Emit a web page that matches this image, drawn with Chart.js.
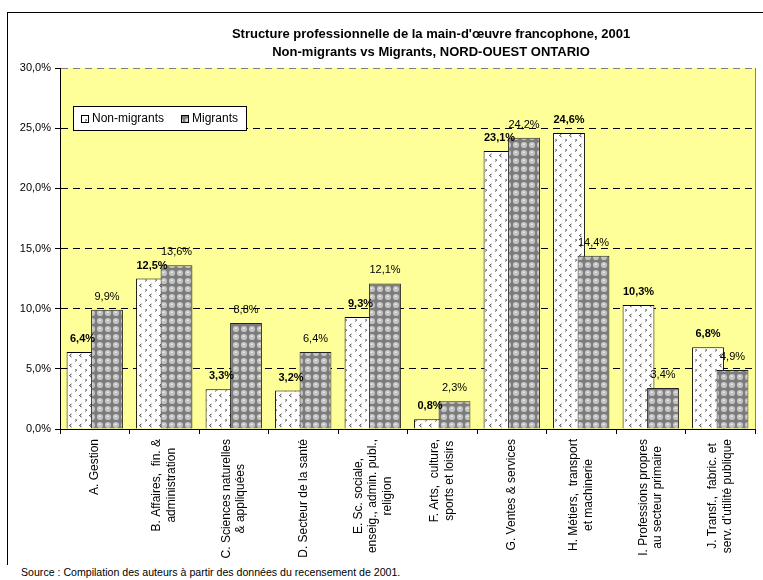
<!DOCTYPE html>
<html>
<head>
<meta charset="utf-8">
<script src="https://cdn.jsdelivr.net/npm/chart.js@4.4.1/dist/chart.umd.min.js"></script>
<style>
body{margin:0;background:#fff;overflow:hidden;width:763px;height:580px;position:relative;font-family:"Liberation Sans",Arial,sans-serif}
#frame{position:absolute;left:7px;top:12px;width:846px;height:552px;border-left:1px solid #000;border-top:1px solid #000}
#source{position:absolute;left:21px;top:566px;font-size:10.6px;color:#000;white-space:nowrap}
</style>
</head>
<body>
<div id="frame"><canvas id="myChart" width="846" height="552"></canvas></div>
<div id="source">Source : Compilation des auteurs à partir des données du recensement de 2001.</div>
<script>
// data
const categories = [
  ['A. Gestion'],
  ['B. Affaires,  fin. &', 'administration'],
  ['C. Sciences naturelles', '& appliquées'],
  ['D. Secteur de la santé'],
  ['E. Sc. sociale,', 'enseig., admin. publ.,', 'religion'],
  ['F. Arts,  culture,', 'sports et loisirs'],
  ['G. Ventes & services'],
  ['H. Métiers,  transport', 'et machinerie'],
  ['I. Professions propres', 'au secteur primaire'],
  ['J. Transf.,  fabric. et', "serv. d'utilité publique"]
];
const nonMigrants = [6.4, 12.5, 3.3, 3.2, 9.3, 0.8, 23.1, 24.6, 10.3, 6.8];
const migrants = [9.9, 13.6, 8.8, 6.4, 12.1, 2.3, 24.2, 14.4, 3.4, 4.9];
const seriesNames = ['Non-migrants', 'Migrants'];
const yMin = 0, yMax = 30, yStep = 5;
const titleLines = ["Structure professionnelle de la main-d'œuvre francophone, 2001",
                    'Non-migrants vs Migrants, NORD-OUEST ONTARIO'];

const FONT = '"Liberation Sans", Arial, sans-serif';
Chart.defaults.font.family = FONT;
Chart.defaults.color = '#000';

function pct(v) { return v.toFixed(1).replace('.', ',') + '%'; }

// white bars with little dark marks
function markPattern() {
  const c = document.createElement('canvas');
  c.width = 10; c.height = 10;
  const g = c.getContext('2d');
  g.fillStyle = '#fff';
  g.fillRect(0, 0, 10, 10);
  g.strokeStyle = '#3a3a3a';
  g.lineWidth = 1;
  g.beginPath();
  g.moveTo(3.5, 1); g.lineTo(1.5, 2.5); g.lineTo(3.5, 4);
  g.moveTo(7.5, 6); g.lineTo(8.5, 7); g.lineTo(7.5, 8.5);
  g.stroke();
  return g.createPattern(c, 'repeat');
}

// grey bubbles
function bubblePattern() {
  const c = document.createElement('canvas');
  c.width = 8; c.height = 8;
  const g = c.getContext('2d');
  g.fillStyle = '#7c7c7c';
  g.fillRect(0, 0, 8, 8);
  g.fillStyle = '#c2c2c2';
  g.beginPath(); g.arc(4, 4, 3.1, 0, Math.PI * 2); g.fill();
  g.fillStyle = '#ededed';
  g.fillRect(2.5, 2.5, 2, 1.5);
  return g.createPattern(c, 'repeat');
}

const decor = {
  id: 'decor',
  beforeDraw(chart) {
    const {ctx, chartArea: a} = chart;
    ctx.save();
    ctx.fillStyle = '#FFFF99';
    ctx.fillRect(a.left, a.top, a.right - a.left, a.bottom - a.top);
    ctx.restore();
  },
  // migrants drawn over non-migrants
  beforeDatasetDraw(chart, args) {
    if (args.index === 0) return false;
    if (args.index === 1) chart.getDatasetMeta(0).controller.draw();
  },
  afterDraw(chart) {
    const {ctx, chartArea: a} = chart;
    const xs = chart.scales.x;
    ctx.save();
    // title, centred on the whole (wider than window) chart frame
    ctx.fillStyle = '#000';
    ctx.textAlign = 'center';
    ctx.textBaseline = 'middle';
    ctx.font = 'bold 13px ' + FONT;
    titleLines.forEach((t, i) => ctx.fillText(t, chart.width / 2, 21 + i * 18));

    // right edge of plot
    ctx.strokeStyle = '#808080';
    ctx.lineWidth = 1;
    ctx.beginPath();
    ctx.moveTo(Math.round(a.right) + 0.5, a.top);
    ctx.lineTo(Math.round(a.right) + 0.5, a.bottom);
    ctx.stroke();

    // value labels
    chart.data.datasets.forEach((ds, d) => {
      ctx.font = (d === 0 ? 'bold ' : '') + '11px ' + FONT;
      chart.getDatasetMeta(d).data.forEach((bar, i) => {
        ctx.fillText(pct(ds.data[i]), bar.x, bar.y - 13);
      });
    });

    // category labels, rotated, lines centred
    ctx.font = '12px ' + FONT;
    categories.forEach((lines, i) => {
      const x = xs.getPixelForValue(i);
      const maxW = Math.max(...lines.map(l => ctx.measureText(l).width));
      ctx.save();
      ctx.translate(x, a.bottom + 10);
      ctx.rotate(-Math.PI / 2);
      lines.forEach((l, j) => {
        ctx.fillText(l, -maxW / 2, (j - (lines.length - 1) / 2) * 14.5);
      });
      ctx.restore();
    });

    // legend box
    const lx = a.left + 13, ly = a.top + 38;
    ctx.fillStyle = '#fff';
    ctx.fillRect(lx + 0.5, ly + 0.5, 173, 24);
    ctx.strokeStyle = '#000';
    ctx.strokeRect(lx + 0.5, ly + 0.5, 173, 24);
    ctx.font = '12px ' + FONT;
    ctx.textAlign = 'left';
    const offs = [8, 108];
    chart.data.datasets.forEach((ds, d) => {
      const sx = lx + offs[d];
      ctx.fillStyle = ds.backgroundColor;
      ctx.fillRect(sx + 0.5, ly + 9.5, 7, 7);
      ctx.strokeStyle = '#000';
      ctx.strokeRect(sx + 0.5, ly + 9.5, 7, 7);
      ctx.fillStyle = '#000';
      ctx.fillText(ds.label, sx + 11, ly + 13);
    });
    ctx.restore();
  }
};

const ctx = document.getElementById('myChart').getContext('2d');
const chart = new Chart(ctx, {
  type: 'bar',
  data: {
    labels: categories,
    datasets: [
      { label: seriesNames[0], data: nonMigrants, backgroundColor: markPattern(),
        borderColor: '#000', borderWidth: 1 },
      { label: seriesNames[1], data: migrants, backgroundColor: bubblePattern(),
        borderColor: '#222', borderWidth: 1 }
    ]
  },
  options: {
    responsive: false,
    animation: false,
    categoryPercentage: 0.705,
    barPercentage: 1.3,
    layout: { padding: { left: 0, right: 99, top: 55, bottom: 0 } },
    plugins: {
      legend: { display: false },
      tooltip: { enabled: false },
      title: { display: false }
    },
    scales: {
      x: {
        offset: true,
        grid: { drawOnChartArea: false, drawTicks: true, tickLength: 5, tickColor: '#000', offset: true },
        border: { color: '#000' },
        ticks: { display: false },
        afterFit(s) { s.height = 136; }
      },
      y: {
        min: yMin, max: yMax,
        ticks: { stepSize: yStep, callback: v => pct(v), font: { size: 11 }, color: '#000', padding: 4 },
        grid: {
          color: c => (c.tick && c.tick.value === yMax) ? '#808080' : '#000',
          tickColor: '#000', tickLength: 5
        },
        border: { display: true, color: '#000', dash: [7, 5] },
        afterFit(s) { s.width = 52; }
      }
    }
  },
  plugins: [decor]
});
</script>
</body>
</html>
